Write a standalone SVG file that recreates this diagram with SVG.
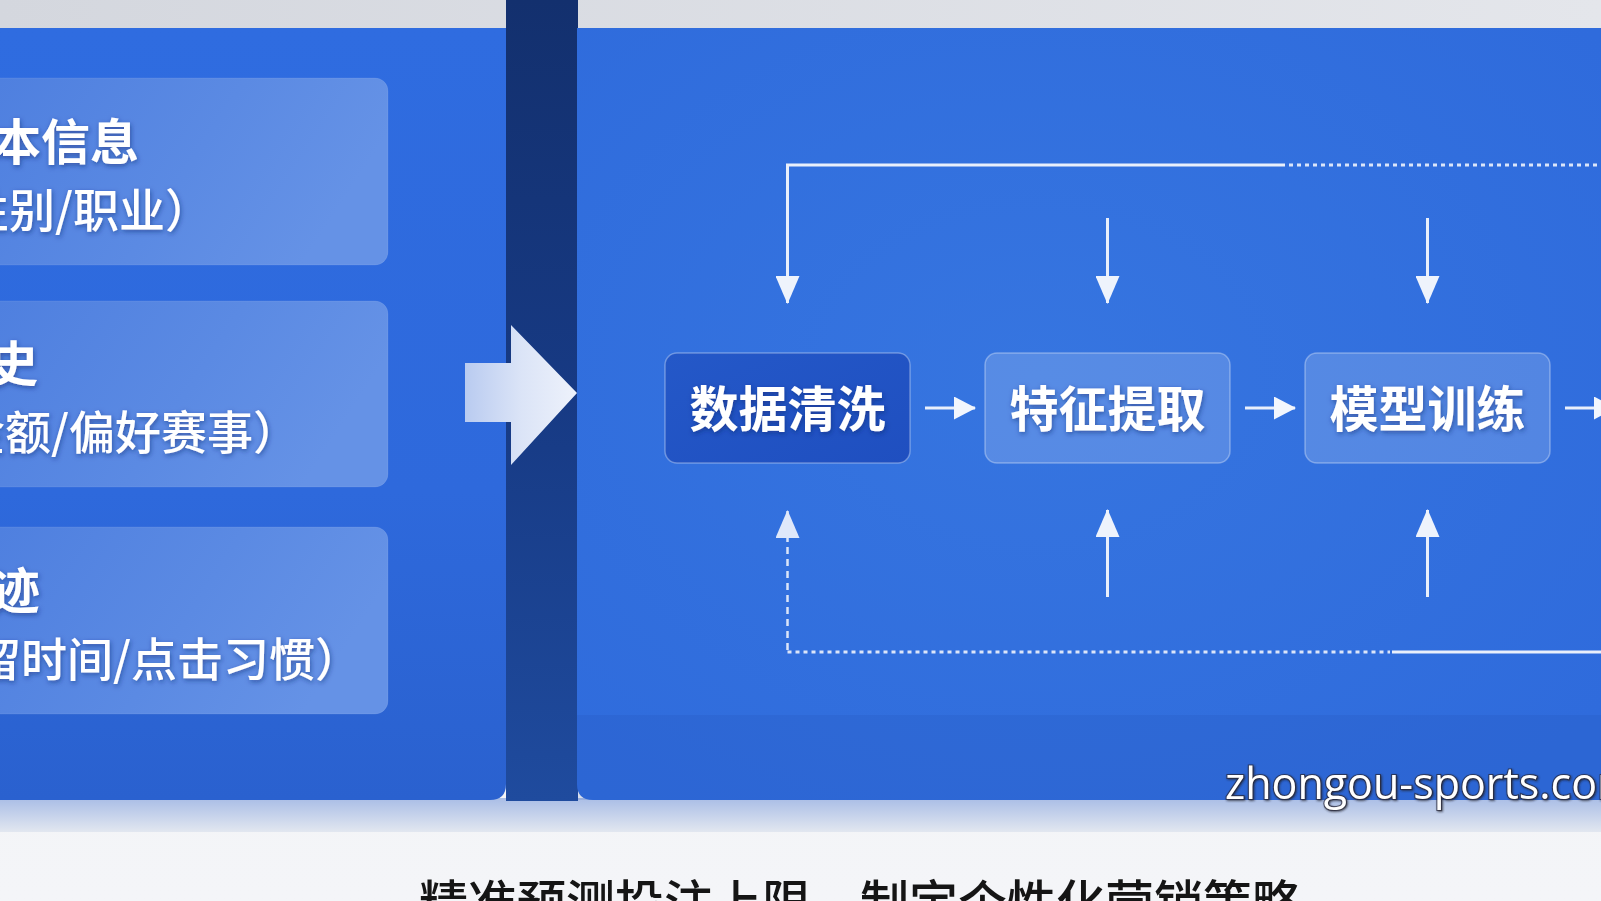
<svg xmlns="http://www.w3.org/2000/svg" width="1601" height="901" viewBox="0 0 1601 901">
<defs>
<linearGradient id="gTop" x1="0" y1="0" x2="1" y2="0"><stop offset="0" stop-color="#d4d7de"/><stop offset="1" stop-color="#e4e6eb"/></linearGradient>
<linearGradient id="gLeft" x1="0" y1="0" x2="0" y2="1"><stop offset="0" stop-color="#2f6ce0"/><stop offset="0.6" stop-color="#2e69dc"/><stop offset="1" stop-color="#2a61cf"/></linearGradient>
<radialGradient id="gRight" cx="0.45" cy="0.45" r="0.7"><stop offset="0" stop-color="#3675e0"/><stop offset="1" stop-color="#2f6bdc"/></radialGradient>
<linearGradient id="gBar" x1="0" y1="0" x2="0" y2="1"><stop offset="0" stop-color="#13306e"/><stop offset="0.5" stop-color="#173a84"/><stop offset="1" stop-color="#1f4b9e"/></linearGradient>
<linearGradient id="gCard" x1="0" y1="0" x2="1" y2="0.3"><stop offset="0" stop-color="#4e7fdf"/><stop offset="0.6" stop-color="#5b8ae3"/><stop offset="1" stop-color="#6592e6"/></linearGradient>
<linearGradient id="gArrow" x1="0" y1="0" x2="1" y2="0"><stop offset="0" stop-color="#b9cbf0"/><stop offset="0.5" stop-color="#dbe4f7"/><stop offset="1" stop-color="#eef2fb"/></linearGradient>
<linearGradient id="gBand" x1="0" y1="0" x2="0" y2="1"><stop offset="0" stop-color="#a9bde6"/><stop offset="1" stop-color="#e2e7f0"/></linearGradient>
<linearGradient id="gFoot" x1="0" y1="0" x2="0" y2="1"><stop offset="0" stop-color="#eef1f5"/><stop offset="1" stop-color="#f4f5f8"/></linearGradient>
<linearGradient id="gNode1" x1="0" y1="0" x2="1" y2="1"><stop offset="0" stop-color="#2458c8"/><stop offset="1" stop-color="#1f4fc0"/></linearGradient>
<filter id="shadow" x="-20%" y="-30%" width="140%" height="160%"><feDropShadow dx="1" dy="2" stdDeviation="2.5" flood-color="#0b2670" flood-opacity="0.55"/></filter>
<filter id="wm" x="-5%" y="-20%" width="110%" height="140%"><feDropShadow dx="1" dy="1" stdDeviation="0.8" flood-color="#1a1a2a" flood-opacity="0.85"/></filter>
<marker id="ahV" viewBox="0 0 28 24" markerWidth="28" markerHeight="24" refX="27" refY="12" orient="auto" markerUnits="userSpaceOnUse"><path d="M0,0 L28,12 L0,24 Z" fill="#eef3fc"/></marker>
<marker id="ahD" viewBox="0 0 28 24" markerWidth="28" markerHeight="24" refX="27" refY="12" orient="auto" markerUnits="userSpaceOnUse"><path d="M0,0 L28,12 L0,24 Z" fill="#dfe8fa"/></marker>
<marker id="ahH" viewBox="0 0 22 23" markerWidth="22" markerHeight="23" refX="21" refY="11.5" orient="auto" markerUnits="userSpaceOnUse"><path d="M0,0 L22,11.5 L0,23 Z" fill="#f2f6fd"/></marker>
</defs>
<style>
.cn{font-family:"Noto Sans CJK SC","Noto Sans",sans-serif}
.title{font-size:49px;font-weight:700;fill:#ffffff}
.sub{font-size:46px;font-weight:500;fill:#ffffff}
.node-t{font-size:49px;font-weight:700;fill:#ffffff}
.card{fill:url(#gCard);stroke:#ffffff;stroke-opacity:0.08;stroke-width:1}
.node{stroke:#ffffff;stroke-opacity:0.32;stroke-width:1.5}
.ln{stroke:#e9effb;stroke-width:3;fill:none}
.dot{stroke:#dbe5f9;stroke-width:3;fill:none;stroke-dasharray:4 4}
.dash{stroke:#dbe5f9;stroke-width:2.5;fill:none;stroke-dasharray:7 5}
</style>

<!-- background -->
<rect x="0" y="0" width="1601" height="901" fill="url(#gFoot)"/>
<rect x="0" y="0" width="1601" height="30" fill="url(#gTop)"/>
<rect x="0" y="798" width="1601" height="34" fill="url(#gBand)"/>
<rect x="506" y="0" width="72" height="801" fill="url(#gBar)"/>
<path d="M0,28 H506 V784 Q506,800 490,800 H0 Z" fill="url(#gLeft)"/>
<path d="M577,28 H1601 V800 H593 Q577,800 577,784 Z" fill="url(#gRight)"/>
<rect x="577" y="715" width="1024" height="85" fill="#163f9a" fill-opacity="0.12"/>

<!-- input cards -->
<g id="card-basic">
<rect class="card" x="-20" y="78" width="408" height="187" rx="13"/>
<text class="cn title" x="139" y="160" text-anchor="end" filter="url(#shadow)">基本信息</text>
<text class="cn sub" x="211" y="227" text-anchor="end" filter="url(#shadow)">（年龄/性别/职业）</text>
</g>
<g id="card-history">
<rect class="card" x="-20" y="301" width="408" height="186" rx="13"/>
<text class="cn title" x="38" y="382" text-anchor="end" filter="url(#shadow)">投注历史</text>
<text class="cn sub" x="299" y="449" text-anchor="end" filter="url(#shadow)">（投注金额/偏好赛事）</text>
</g>
<g id="card-behavior">
<rect class="card" x="-20" y="527" width="408" height="187" rx="13"/>
<text class="cn title" x="40" y="609" text-anchor="end" filter="url(#shadow)">浏览轨迹</text>
<text class="cn sub" x="361" y="676" text-anchor="end" filter="url(#shadow)">（停留时间/点击习惯）</text>
</g>

<!-- big transfer arrow -->
<g id="big-arrow">
<polygon points="465,363 511,363 511,325 577,393 511,465 511,422 465,422" fill="url(#gArrow)"/>
</g>

<!-- flow nodes -->
<g id="node-clean">
<rect class="node" x="665" y="353" width="245" height="110" rx="12" fill="url(#gNode1)"/>
<text class="cn node-t" x="787.5" y="427" text-anchor="middle" filter="url(#shadow)">数据清洗</text>
</g>
<g id="node-feature">
<rect class="node" x="985" y="353" width="245" height="110" rx="12" fill="#ffffff" fill-opacity="0.17"/>
<text class="cn node-t" x="1107.5" y="427" text-anchor="middle" filter="url(#shadow)">特征提取</text>
</g>
<g id="node-train">
<rect class="node" x="1305" y="353" width="245" height="110" rx="12" fill="#ffffff" fill-opacity="0.17"/>
<text class="cn node-t" x="1427.5" y="427" text-anchor="middle" filter="url(#shadow)">模型训练</text>
</g>

<!-- connectors -->
<g id="connectors">
<path class="ln" d="M1285,165 H787.5 V303" marker-end="url(#ahV)"/>
<path class="dot" d="M1289,165 H1601"/>
<path class="ln" d="M1107.5,218 V303" marker-end="url(#ahV)"/>
<path class="ln" d="M1427.5,218 V303" marker-end="url(#ahV)"/>
<path class="ln" d="M925,408 H975" marker-end="url(#ahH)"/>
<path class="ln" d="M1245,408 H1295" marker-end="url(#ahH)"/>
<path class="ln" d="M1565,408 H1615" marker-end="url(#ahH)"/>
<path class="ln" d="M1107.5,597 V510" marker-end="url(#ahV)"/>
<path class="ln" d="M1427.5,597 V510" marker-end="url(#ahV)"/>
<path class="dash" d="M787.5,650 V511" marker-end="url(#ahD)"/>
<path class="dot" d="M787.5,652 H1390"/>
<path class="ln" d="M1392,652 H1601"/>
</g>

<!-- watermark -->
<text x="1225" y="799" font-family="'Open Sans','Noto Sans',sans-serif" font-size="43" fill="#ffffff" stroke="#2a2a3a" stroke-width="2.2" stroke-opacity="0.7" paint-order="stroke" filter="url(#wm)">zhongou-sports.com</text>

<!-- caption (cut at bottom edge) -->
<text class="cn" x="419" y="921" font-size="49" font-weight="500" fill="#151515">精准预测投注上限，制定个性化营销策略</text>
</svg>
